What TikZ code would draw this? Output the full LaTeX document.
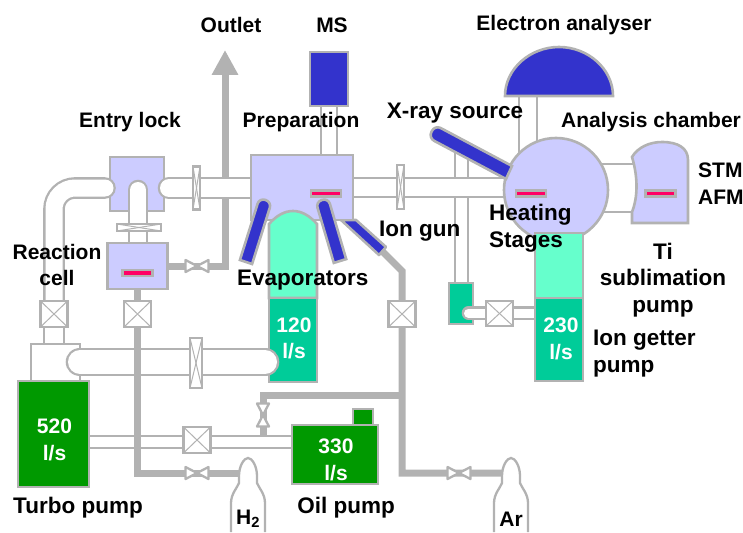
\documentclass[tikz,border=0pt]{standalone}
\usepackage{fontspec}
\setmainfont{Liberation Sans}
\usetikzlibrary{positioning}
\usetikzlibrary{backgrounds}
\usetikzlibrary{arrows.meta}
\definecolor{pipegray}{HTML}{B2B2B2}
\definecolor{chamberblue}{HTML}{CCCCFF}
\definecolor{deepblue}{HTML}{3333CC}
\definecolor{stagepink}{HTML}{FF0066}
\definecolor{tigreen}{HTML}{66FFCC}
\definecolor{iongreen}{HTML}{00CC99}
\definecolor{turbogreen}{HTML}{009900}
\tikzset{
	lbl/.style = {font=\bfseries\fontsize{21}{26.5}\selectfont, inner sep=0pt, align=center},
	biglbl/.style = {font=\bfseries\fontsize{22.5}{26.5}\selectfont, inner sep=0pt, align=center},
	whitelbl/.style = {lbl, text=white},
	unit/.style = {draw=pipegray, fill=#1, line width=2.6pt, rectangle, inner sep=0pt, outer sep=0pt},
	chamber/.style = {unit=chamberblue},
	stage/.style = {draw=pipegray, fill=stagepink, line width=2.5pt, rectangle, inner sep=0pt, minimum width=30pt, minimum height=6pt},
	pipe/.style = {draw=pipegray, double=white, line width=2.3pt, double distance=#1},
	gasline/.style = {draw=pipegray, line width=7pt},
	gatevalve/.style = {unit=white, path picture={
		\draw[pipegray, line width=1pt] (path picture bounding box.south west) -- (path picture bounding box.north east);
		\draw[pipegray, line width=1pt] (path picture bounding box.north west) -- (path picture bounding box.south east);}},
	bowtie/.pic = {\draw[pipegray, fill=white, line width=2.3pt, line join=round] (-11.5,-6) -- (11.5,6) -- (11.5,-6) -- (-11.5,6) -- cycle;},
	bottle/.pic = {\draw[pipegray, fill=white, line width=2.3pt] (-17,74) -- (-17,45) .. controls (-17,36) and (-11,30) .. (-9,25) -- (-9,18) .. controls (-9,8) and (-4,0) .. (0,0) .. controls (4,0) and (9,8) .. (9,18) -- (9,25) .. controls (11,30) and (17,36) .. (17,45) -- (17,74);}
}
\begin{document}
\begin{tikzpicture}[x=1pt,y=-1pt]
	\useasboundingbox (0,0) rectangle (743,532);
	\coordinate (entryleft) at (105,188);
	\coordinate (entryright) at (169,188);
	\coordinate (prepleft) at (251,188);
	\coordinate (lockgate) at (54,314);
	\coordinate (entryarch) at (138,190);
	\coordinate (cellvalve) at (197,266);
	\coordinate (outlettip) at (225,50);
	\coordinate (h2) at (248,473);
	\coordinate (ar) at (511,473);
	\coordinate (h2valve) at (197,473);
	\coordinate (arvalve) at (459,473);
	\coordinate (gasjoin) at (402,395);
	\coordinate (oilvalve) at (263,415);
	\coordinate (turbopipe) at (89,442);
	\coordinate (gunend) at (381,250);
	\coordinate (gasbend) at (402,271);
	\coordinate (domefoot) at (528,96);
	\coordinate (xraytube) at (461.5,150);
	\coordinate (smalltube) at (468.5,313);
	\coordinate (gettertube) at (559,313);
	\coordinate (stmtube) at (660,188);
	\node[chamber, circle, minimum size=104pt] at (556,190) (analysis) {};
	\node[unit=tigreen, minimum width=48pt, minimum height=65pt] at (559,265.5) (tianalysis) {};
	\draw[unit=deepblue] (512,166) [rounded corners=6.5pt] -- (435,125) -- (428.4,137.8) [sharp corners] -- (506,179) -- cycle;
	\draw[unit=deepblue, line join=round] (341,220) -- (356,220) -- (386,247) -- (379,255) -- cycle;
	\node[stage] at (531,193.5) (analysisstage) {};
	\draw[unit=deepblue] (505,96) .. controls (505,69) and (530,47) .. (559,47) .. controls (588,47) and (613,69) .. (613,96) -- cycle;
	\draw[unit=chamberblue] (632,223) -- (632,212) .. controls (638,197) and (638,177) .. (632,157) .. controls (638,147) and (650,142) .. (662,142) .. controls (678,142) and (688,148) .. (688,160) -- (688,223) -- cycle;
	\node[stage] at (660.5,193.5) (stmstage) {};
	\node[unit=deepblue, minimum width=38pt, minimum height=54pt] at (329,79) (ms) {};
	\node[chamber, minimum width=54pt, minimum height=54pt] at (137,184) (entry) {};
	\draw[pipe=17pt, line cap=round, rounded corners=21pt] (entryleft) -| (lockgate);
	\draw[pipe=18pt, line cap=round] (entryright) -- (prepleft);
	\draw[pipe=16pt, line cap=round] (entryarch) -- (138,250);
	\node[gatevalve, minimum width=44pt, minimum height=7pt] at (139,227.5) (lockflange) {};
	\node[gatevalve, minimum width=7pt, minimum height=43pt] at (196.5,188) (entryflange) {};
	\node[chamber, minimum width=60pt, minimum height=46pt] at (137.5,266) (cell) {};
	\node[stage] at (137.5,273) (cellstage) {};
	\node[chamber, minimum width=102pt, minimum height=65pt] at (302,187.5) (prep) {};
	\node[stage] at (326,193.5) (prepstage) {};
	\draw[unit=tigreen] (269,298) -- (269,224) .. controls (277,215) and (285,211) .. (293,211) .. controls (301,211) and (309,215) .. (317,224) -- (317,298) -- cycle;
	\node[unit=iongreen, minimum width=48pt, minimum height=84pt] at (293,340) (prepgetter) {};
	\draw[unit=deepblue] (239.9,260) [rounded corners=6pt] -- (259.4,198) -- (271.6,202) [sharp corners] -- (252.1,264) -- cycle;
	\draw[unit=deepblue] (333.8,262.9) [rounded corners=6pt] -- (315.8,201.9) -- (328.2,198.1) [sharp corners] -- (346.2,259.1) -- cycle;
	\node[unit=white, minimum width=49pt, minimum height=37pt] at (55.5,362.5) (adaptor) {};
	\draw[pipe=24pt, line cap=round] (80,362) -- (265,362);
	\node[gatevalve, minimum width=12pt, minimum height=50pt] at (196,363) (tubeflange) {};
	\node[unit=turbogreen, minimum width=71pt, minimum height=106pt] at (53.5,434) (turbo) {};
	\node[unit=turbogreen, minimum width=86pt, minimum height=59pt] at (335,454.5) (oilpump) {};
	\node[above = 0pt of oilpump.north east, xshift=-15pt, unit=turbogreen, minimum width=20pt, minimum height=16pt] (oilbox) {};
	\node[unit=iongreen, minimum width=24pt, minimum height=41pt] at (461,303.5) (smallpump) {};
	\draw[pipe=9pt, line cap=round] (smalltube) -- (gettertube);
	\node[below = 0pt of tianalysis, unit=iongreen, minimum width=48pt, minimum height=83pt] (getter) {};
	\node[gatevalve, minimum width=27pt, minimum height=25pt] at (499.5,313.5) (smallgate) {};
	\begin{pgfonlayer}{background}
		\draw[gasline, -{Triangle[length=25pt,width=25pt]}] (cell.east) -- (cellvalve) -| (outlettip);
		\draw[pipe=14pt] (ms) -- (ms |- prep);
		\draw[pipe=11pt] (xraytube) -- (xraytube |- smallpump);
		\draw[pipe=17pt] (prep) -- (prep -| analysis);
		\draw[pipe=16pt] (domefoot) -- (domefoot |- analysis);
		\draw[pipe=46pt] (stmtube -| analysis) -- (stmtube);
		\draw[pipe=18pt] (lockgate) -- (lockgate |- adaptor);
		\draw[gasline] (gunend) -- (gasbend) |- (ar);
		\draw[gasline] (gasjoin) -| (turbopipe -| oilvalve) -- (oilvalve |- turbopipe);
		\draw[pipe=10pt] (turbopipe) -- (turbopipe -| oilpump);
	\end{pgfonlayer}
	\draw[gasline] (cell.south) |- (h2);
	\node[gatevalve, minimum width=27pt, minimum height=26pt] at (lockgate) (lockgatebox) {};
	\node[gatevalve, minimum width=27pt, minimum height=26pt] at (137.5,314) (cellgate) {};
	\node[gatevalve, minimum width=27pt, minimum height=26pt] at (402,314) (gungate) {};
	\node[gatevalve, minimum width=27pt, minimum height=26pt] at (197,440) (turbogate) {};
	\pic at (cellvalve) {bowtie};
	\pic at (h2valve) {bowtie};
	\pic at (arvalve) {bowtie};
	\pic[rotate=90] at (oilvalve) {bowtie};
	\node[gatevalve, minimum width=7pt, minimum height=44pt] at (400.5,187) (prepflange) {};
	\pic at (248,458) {bottle};
	\pic at (511,458) {bottle};
	\node[lbl] at (231,25) (outletlbl) {Outlet};
	\node[lbl] at (332,25) (mslbl) {MS};
	\node[lbl] at (564,25) (analyserlbl) {Electron analyser};
	\node[lbl] at (130,122) (entrylbl) {Entry lock};
	\node[lbl] at (301,122) (preplbl) {Preparation};
	\node[biglbl] at (455,113) (xraylbl) {X-ray source};
	\node[lbl] at (651,122) (chamberlbl) {Analysis chamber};
	\node[lbl, align=left, anchor=west] at (698,183.5) (stmlbl) {STM\\AFM};
	\node[biglbl, align=left, anchor=west] at (489,228) (heatlbl) {Heating\\Stages};
	\node[biglbl, anchor=west] at (379,231) (gunlbl) {Ion gun};
	\node[biglbl, anchor=west] at (237,280) (evaplbl) {Evaporators};
	\node[lbl] at (57,265) (celllbl) {Reaction\\cell};
	\node[biglbl] at (663,280) (tilbl) {Ti\\sublimation\\pump};
	\node[biglbl, align=left, anchor=west] at (593,353.5) (getterlbl) {Ion getter\\pump};
	\node[whitelbl] at (294,338.5) (prepgetterlbl) {120\\l/s};
	\node[whitelbl] at (561,339) (gettertxt) {230\\l/s};
	\node[whitelbl] at (54.5,440) (turbotxt) {520\\l/s};
	\node[whitelbl] at (336,460) (oiltxt) {330\\l/s};
	\node[biglbl] at (78,508) (turbolbl) {Turbo pump};
	\node[biglbl] at (346,508) (oillbl) {Oil pump};
	\node[lbl] at (248,519) (h2lbl) {H\textsubscript{2}};
	\node[lbl] at (511,519) (arlbl) {Ar};
\end{tikzpicture}
\end{document}
